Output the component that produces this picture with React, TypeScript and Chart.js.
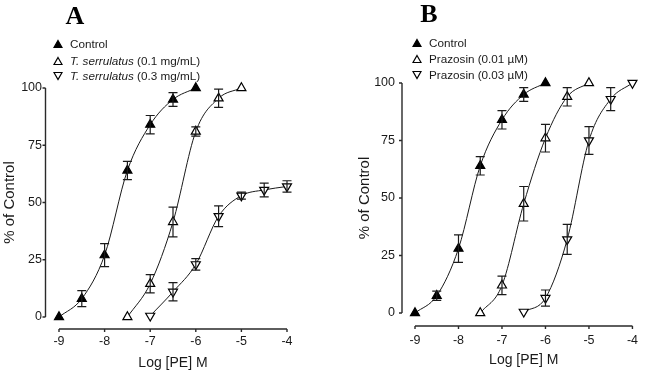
import React, { useEffect, useRef } from 'react';
import { Chart, registerables } from 'chart.js';

Chart.register(...registerables);

// ---------- data ----------
const xTicks = [-9, -8, -7, -6, -5, -4];
const yTicks = [0, 25, 50, 75, 100];

// Panel A
const aControlX = [-9, -8.5, -8, -7.5, -7, -6.5, -6];
const aControlY = [0, 8, 27, 64, 84, 95, 100];
const aControlErr = [0, 3.5, 5, 4, 4, 3, 0];
const aTs01X = [-7.5, -7, -6.5, -6, -5.5, -5];
const aTs01Y = [0, 14.5, 41.5, 81, 95.5, 100];
const aTs01Err = [0, 4, 6.5, 2, 4, 0];
const aTs03X = [-7, -6.5, -6, -5.5, -5, -4.5, -4];
const aTs03Y = [0.5, 11, 23, 44, 53, 55.5, 57];
const aTs03Err = [0, 4, 2.5, 4.5, 1.5, 3, 2.5];

// Panel B
const bControlX = [-9, -8.5, -8, -7.5, -7, -6.5, -6];
const bControlY = [0, 7.5, 28, 64, 84, 95, 100];
const bControlErr = [0, 2, 6, 4, 4, 3, 0];
const bPz001X = [-7.5, -7, -6.5, -6, -5.5, -5];
const bPz001Y = [0, 12, 47.5, 76, 94, 100];
const bPz001Err = [0, 4, 7.5, 6, 4, 0];
const bPz003X = [-6.5, -6, -5.5, -5, -4.5, -4];
const bPz003Y = [0.5, 6.5, 32, 75, 93, 100];
const bPz003Err = [0, 3.5, 6.5, 6, 5, 0];

const FONT = "'Liberation Sans', Arial, sans-serif";
const INK = '#1a1a1a';

type Style = 'filledUp' | 'hollowUp' | 'hollowDown';

function makeDataset(xs: number[], ys: number[], errs: number[], style: Style) {
  return {
    data: xs.map((x, i) => ({ x, y: ys[i] })),
    errors: errs,
    showLine: true,
    cubicInterpolationMode: 'monotone' as const,
    borderColor: INK,
    borderWidth: 1,
    pointStyle: 'triangle',
    pointRadius: 5.2,
    pointHoverRadius: 5.2,
    pointRotation: style === 'hollowDown' ? 180 : 0,
    pointBackgroundColor: style === 'filledUp' ? '#000' : '#fff',
    pointBorderColor: '#000',
    pointBorderWidth: 1.2,
    clip: false as const,
  };
}

const errorBarPlugin = {
  id: 'errorBars',
  afterDatasetsDraw(chart: any) {
    const { ctx, scales } = chart;
    const x = scales.x;
    const y = scales.y;
    ctx.save();
    ctx.strokeStyle = INK;
    ctx.lineWidth = 1.2;
    chart.data.datasets.forEach((ds: any) => {
      ds.data.forEach((p: any, i: number) => {
        const e = ds.errors[i];
        if (!e) return;
        const px = x.getPixelForValue(p.x);
        const top = y.getPixelForValue(p.y + e);
        const bot = y.getPixelForValue(p.y - e);
        ctx.beginPath();
        ctx.moveTo(px, top);
        ctx.lineTo(px, bot);
        ctx.moveTo(px - 4.5, top);
        ctx.lineTo(px + 4.5, top);
        ctx.moveTo(px - 4.5, bot);
        ctx.lineTo(px + 4.5, bot);
        ctx.stroke();
      });
    });
    ctx.restore();
  },
};

const offsetAxesPlugin = {
  id: 'offsetAxes',
  afterDraw(chart: any, _args: any, opts: any) {
    const { ctx, chartArea, scales } = chart;
    const x = scales.x;
    const y = scales.y;
    const ax = chartArea.left - opts.dx;
    const ay = chartArea.bottom + opts.dy;
    ctx.save();
    ctx.strokeStyle = '#2a2a2a';
    ctx.lineWidth = 1.4;
    ctx.beginPath();
    ctx.moveTo(ax, y.getPixelForValue(y.max));
    ctx.lineTo(ax, y.getPixelForValue(y.min));
    yTicks.forEach((v) => {
      const py = y.getPixelForValue(v);
      ctx.moveTo(ax, py);
      ctx.lineTo(ax - 3, py);
    });
    ctx.moveTo(x.getPixelForValue(x.min), ay);
    ctx.lineTo(x.getPixelForValue(x.max), ay);
    xTicks.forEach((v) => {
      const px = x.getPixelForValue(v);
      ctx.moveTo(px, ay);
      ctx.lineTo(px, ay + 3);
    });
    ctx.stroke();
    ctx.restore();
  },
};

interface PanelCfg {
  datasets: any[];
  yWidth: number;
  rightPad: number;
  topPad: number;
  xHeight: number;
  yTickPad: number;
  xTickPad: number;
  yTitlePad: number;
  xTitlePad: number;
  dx: number;
  dy: number;
}

function Panel({ cfg, left }: { cfg: PanelCfg; left: number }) {
  const ref = useRef<HTMLCanvasElement | null>(null);
  useEffect(() => {
    if (!ref.current) return;
    const chart = new Chart(ref.current, {
      type: 'scatter',
      data: { datasets: cfg.datasets },
      plugins: [errorBarPlugin as any, offsetAxesPlugin as any],
      options: {
        animation: false,
        responsive: false,
        maintainAspectRatio: false,
        events: [],
        layout: { padding: { left: 0, top: cfg.topPad, right: cfg.rightPad, bottom: 0 } },
        plugins: {
          legend: { display: false },
          tooltip: { enabled: false },
          offsetAxes: { dx: cfg.dx, dy: cfg.dy },
        } as any,
        scales: {
          x: {
            type: 'linear',
            min: -9,
            max: -4,
            afterBuildTicks: (s: any) => {
              s.ticks = xTicks.map((v) => ({ value: v }));
            },
            afterFit: (s: any) => {
              s.height = cfg.xHeight;
            },
            grid: { display: false, drawTicks: false, tickLength: 0 },
            border: { display: false },
            ticks: {
              autoSkip: false,
              maxRotation: 0,
              padding: cfg.xTickPad,
              color: INK,
              font: { family: FONT, size: 12.5 },
            },
            title: {
              display: true,
              text: 'Log [PE] M',
              color: INK,
              font: { family: FONT, size: 14 },
              padding: { top: 0, bottom: cfg.xTitlePad },
            },
          },
          y: {
            type: 'linear',
            min: 0,
            max: 100,
            afterBuildTicks: (s: any) => {
              s.ticks = yTicks.map((v) => ({ value: v }));
            },
            afterFit: (s: any) => {
              s.width = cfg.yWidth;
            },
            grid: { display: false, drawTicks: false, tickLength: 0 },
            border: { display: false },
            ticks: {
              autoSkip: false,
              padding: cfg.yTickPad,
              color: INK,
              font: { family: FONT, size: 12.5 },
            },
            title: {
              display: true,
              text: '% of Control',
              color: INK,
              font: { family: FONT, size: 15 },
              padding: { top: cfg.yTitlePad, bottom: 0 },
            },
          },
        },
      } as any,
    });
    return () => chart.destroy();
  }, [cfg]);
  return (
    <canvas
      ref={ref}
      width={329}
      height={375}
      style={{ position: 'absolute', left, top: 0, width: 329, height: 375 }}
    />
  );
}

const panelA: PanelCfg = {
  datasets: [
    makeDataset(aControlX, aControlY, aControlErr, 'filledUp'),
    makeDataset(aTs01X, aTs01Y, aTs01Err, 'hollowUp'),
    makeDataset(aTs03X, aTs03Y, aTs03Err, 'hollowDown'),
  ],
  yWidth: 59,
  rightPad: 42,
  topPad: 88,
  xHeight: 58,
  yTickPad: 17,
  xTickPad: 17.5,
  yTitlePad: 1,
  xTitlePad: 3.6,
  dx: 13.5,
  dy: 12,
};

const panelB: PanelCfg = {
  datasets: [
    makeDataset(bControlX, bControlY, bControlErr, 'filledUp'),
    makeDataset(bPz001X, bPz001Y, bPz001Err, 'hollowUp'),
    makeDataset(bPz003X, bPz003Y, bPz003Err, 'hollowDown'),
  ],
  yWidth: 86,
  rightPad: 8,
  topPad: 83,
  xHeight: 62,
  yTickPad: 20,
  xTickPad: 20,
  yTitlePad: 27,
  xTitlePad: 6.6,
  dx: 13,
  dy: 13,
};

function Marker({ style }: { style: Style }) {
  const pts = style === 'hollowDown' ? '1,1.5 9,1.5 5,8.5' : '5,1.5 9,8.5 1,8.5';
  return (
    <svg width={10} height={10} style={{ display: 'block' }}>
      <polygon
        points={pts}
        fill={style === 'filledUp' ? '#000' : '#fff'}
        stroke="#000"
        strokeWidth={1.2}
      />
    </svg>
  );
}

function LegendRow({ x, y, style, children }: { x: number; y: number; style: Style; children: React.ReactNode }) {
  return (
    <div style={{ position: 'absolute', left: x - 5, top: y - 6, height: 12, display: 'flex', alignItems: 'center' }}>
      <Marker style={style} />
      <span
        style={{
          marginLeft: 7,
          fontFamily: FONT,
          fontSize: 11.7,
          lineHeight: '12px',
          color: INK,
          whiteSpace: 'nowrap',
        }}
      >
        {children}
      </span>
    </div>
  );
}

const titleStyle: React.CSSProperties = {
  position: 'absolute',
  fontFamily: "'Liberation Serif', 'Times New Roman', serif",
  fontWeight: 'bold',
  fontSize: 26,
  lineHeight: 1,
  color: '#000',
  transform: 'translate(-50%, -50%)',
};

export default function App() {
  return (
    <div
      style={{
        position: 'fixed',
        left: 0,
        top: 0,
        width: 658,
        height: 375,
        background: '#fff',
        overflow: 'hidden',
      }}
    >
      <Panel cfg={panelA} left={0} />
      <Panel cfg={panelB} left={329} />

      <div style={{ ...titleStyle, left: 75, top: 16 }}>A</div>
      <div style={{ ...titleStyle, left: 429, top: 14 }}>B</div>

      <LegendRow x={58} y={44} style="filledUp">Control</LegendRow>
      <LegendRow x={58} y={60.5} style="hollowUp">
        <i>T. serrulatus</i> (0.1 mg/mL)
      </LegendRow>
      <LegendRow x={58} y={76} style="hollowDown">
        <i>T. serrulatus</i> (0.3 mg/mL)
      </LegendRow>

      <LegendRow x={417} y={43} style="filledUp">Control</LegendRow>
      <LegendRow x={417} y={59} style="hollowUp">Prazosin (0.01 µM)</LegendRow>
      <LegendRow x={417} y={75} style="hollowDown">Prazosin (0.03 µM)</LegendRow>
    </div>
  );
}
